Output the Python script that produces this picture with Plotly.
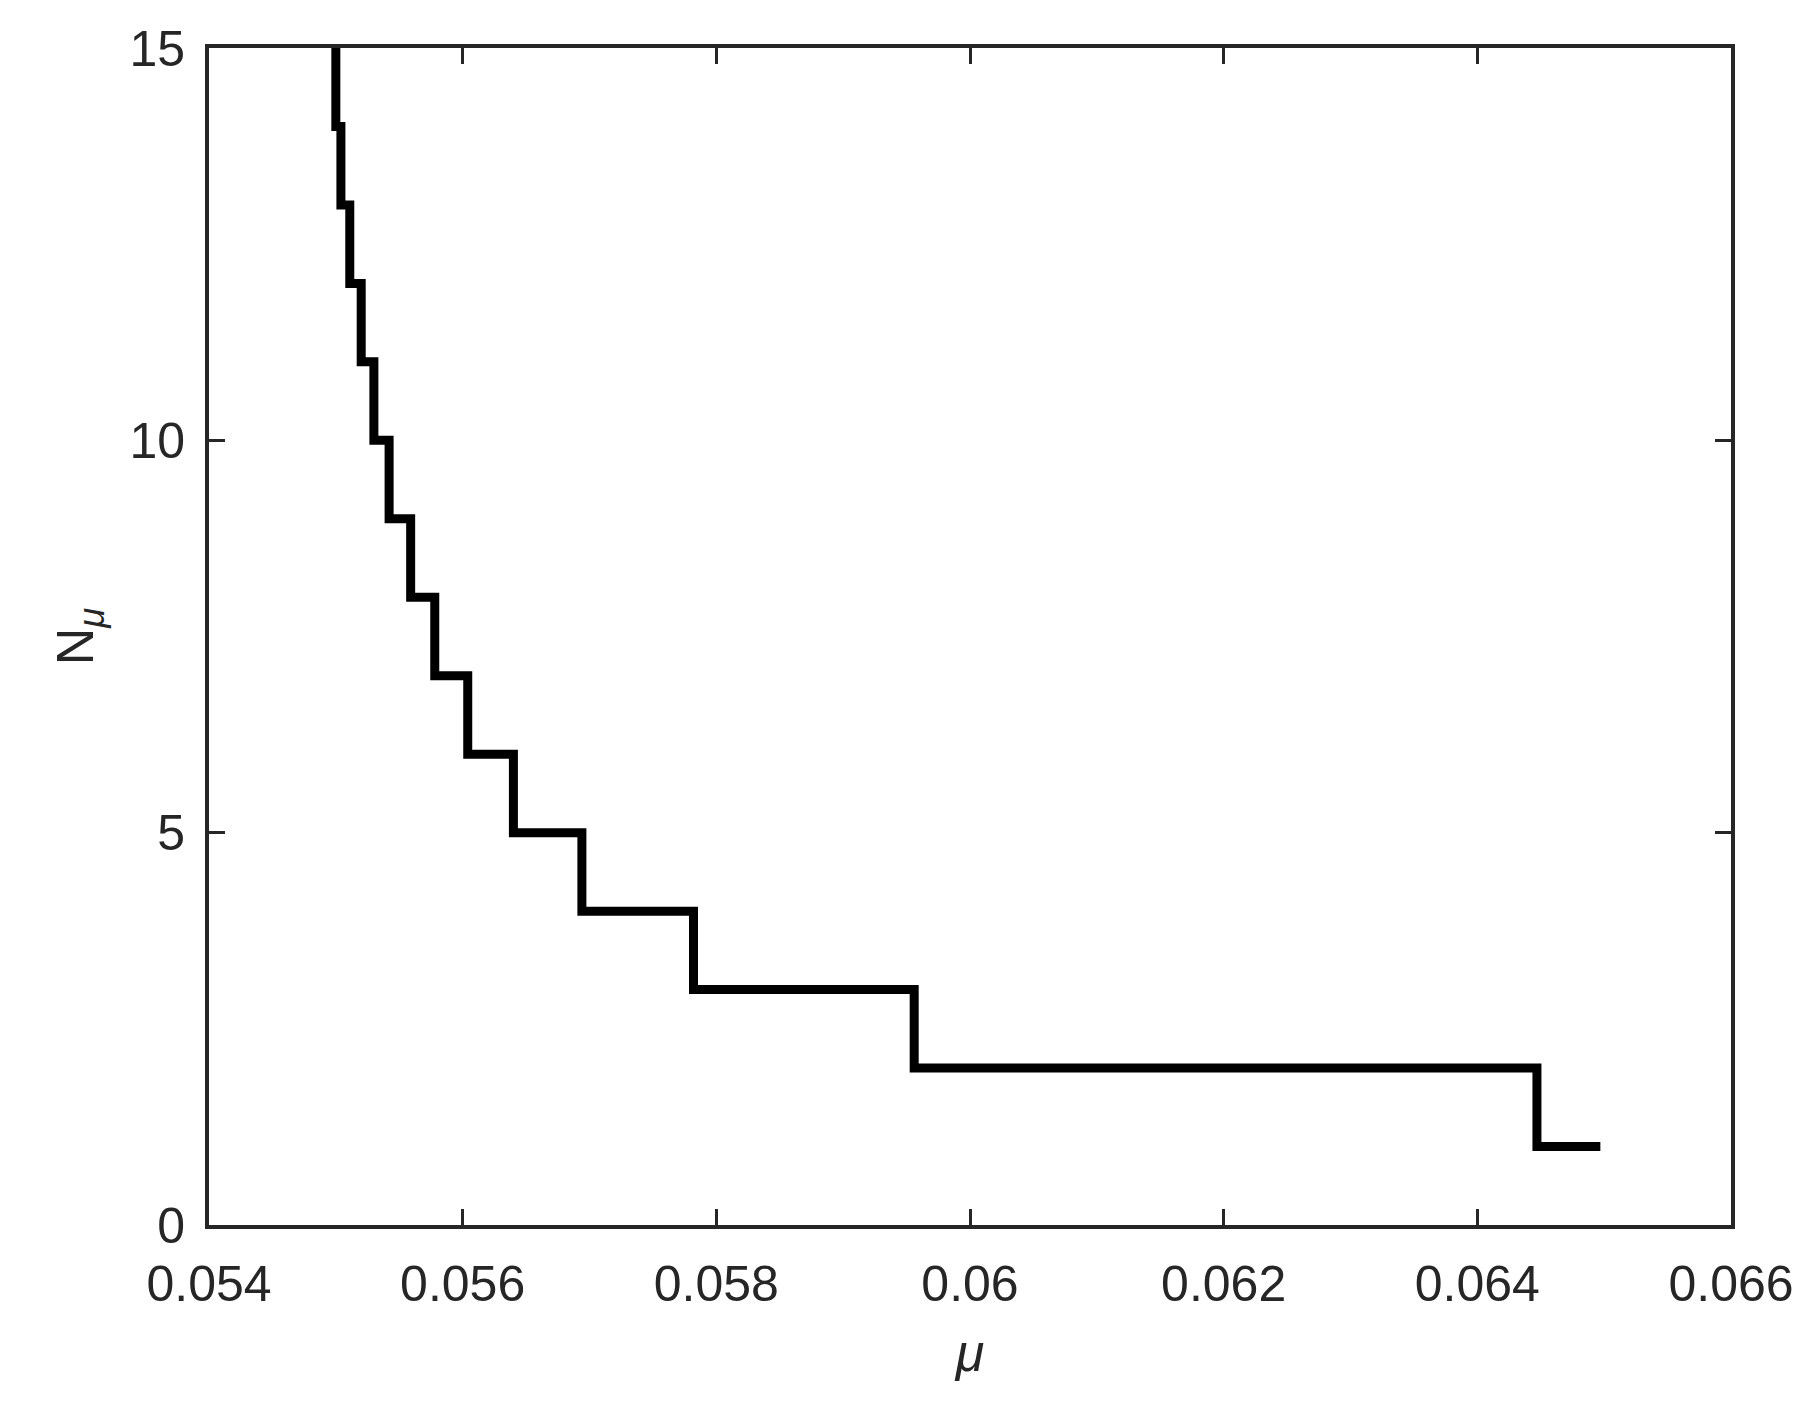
import plotly.graph_objects as go

mu = [0.05500, 0.05500, 0.05504, 0.05511, 0.05520, 0.05530, 0.05542, 0.05559,
      0.05578, 0.05604, 0.05640, 0.05694, 0.05782, 0.05956, 0.06447, 0.06497]
N = [15, 14, 13, 12, 11, 10, 9, 8, 7, 6, 5, 4, 3, 2, 1, 1]

fig = go.Figure(go.Scatter(x=mu, y=N, mode="lines", line=dict(shape="hv", color="black", width=9)))
ax = dict(showgrid=False, zeroline=False, ticks="inside", ticklen=16, tickwidth=3,
          linecolor="#262626", linewidth=4, mirror="ticks", tickcolor="#262626",
          tickfont=dict(family="Liberation Sans", size=50, color="#262626"))
fig.update_xaxes(range=[0.054, 0.066], tickvals=[0.054, 0.056, 0.058, 0.06, 0.062, 0.064, 0.066],
                 ticktext=["0.054", "0.056", "0.058", "0.06", "0.062", "0.064", "0.066"],
                 ticklabelstandoff=12,
                 title=dict(text="<i>μ</i>", font=dict(family="Liberation Sans", size=52, color="#262626"), standoff=25), **ax)
fig.update_yaxes(range=[0, 15], tickvals=[0, 5, 10, 15], ticklabelstandoff=10,
                 title=dict(text="N<sub><i>μ</i></sub>", font=dict(family="Liberation Sans", size=52, color="#262626"), standoff=20), **ax)
fig.update_layout(width=1802, height=1410, plot_bgcolor="white", paper_bgcolor="white",
                  margin=dict(l=201, r=79, t=32, b=193), showlegend=False)
fig.write_html("out.html")
